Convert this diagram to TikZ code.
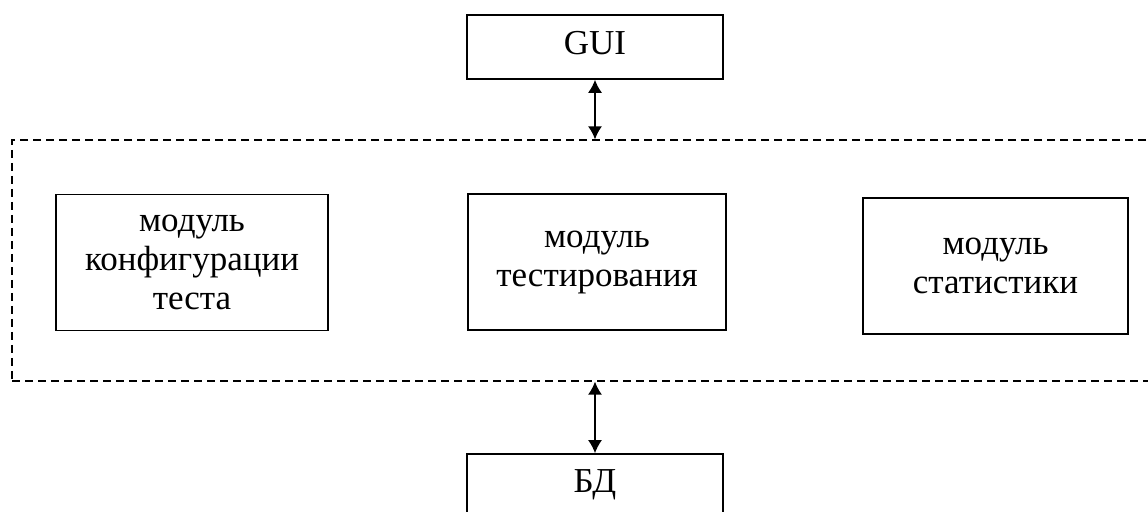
\documentclass[tikz,border=0pt]{standalone}
\usepackage{fontspec}
\setmainfont{Liberation Serif}
\usepackage{tikz}
\usetikzlibrary{arrows.meta,positioning}

\begin{document}
\begin{tikzpicture}[
  x=1pt, y=1pt,
  box/.style={draw=black, line width=0.8pt, minimum width=128pt, minimum height=32pt, align=center, inner sep=0pt,
    font=\fontsize{17.5}{19.5}\selectfont},
  modbox/.style={box, minimum height=68pt},
  frame/.style={draw=black, dashed, dash pattern=on 4pt off 2.5pt, line width=0.6pt, minimum width=571pt, minimum height=120.5pt, inner sep=0pt},
  arrow/.style={{Latex[length=6.5pt,width=7pt]}-{Latex[length=6.5pt,width=7pt]}, line width=0.8pt}
]
\useasboundingbox (0,0) rectangle (574,-256);
\node[frame] (core) at (291.5,-130.25) {};
\node[box] (gui) at (297.5,-23.5) {GUI\vphantom{y}};
\node[modbox, minimum width=136pt] (config) at (96,-131.25) {модуль\\конфигурации\\теста};
\node[modbox, minimum width=129pt] (tester) at (298.5,-131) {модуль\\тестирования};
\node[modbox, minimum width=132.5pt] (stats) at (497.75,-133) {модуль\\статистики};
\node[box, minimum height=31pt] (db) at (297.5,-242.5) {БД};

\draw[arrow] (gui.south) -- (gui.south |- core.north);
\draw[arrow] (db.north |- core.south) -- (db.north);
\end{tikzpicture}
\end{document}
